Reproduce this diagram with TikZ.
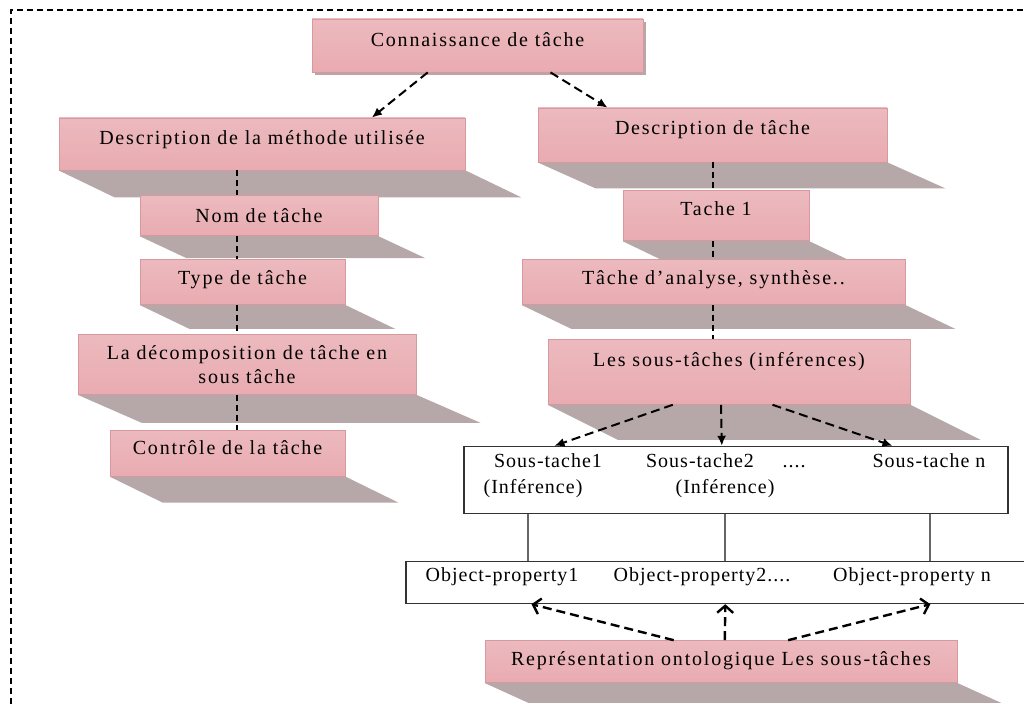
\documentclass[tikz,border=0pt]{standalone}
\usepackage{fontspec}
\setmainfont{Liberation Serif}
\newfontfamily\boxfont{Liberation Serif}[LetterSpace=9]
\newfontfamily\cellfont{Liberation Serif}[LetterSpace=5]
\usepackage{tikz}
\usetikzlibrary{positioning}
\usetikzlibrary{arrows.meta}
\usetikzlibrary{calc}
\usetikzlibrary{backgrounds}
\usepackage{xcolor}
\definecolor{pkdark}{RGB}{229,160,166}
\definecolor{pklight}{RGB}{250,234,236}
\definecolor{pkedge}{RGB}{215,152,158}
\definecolor{floor}{RGB}{182,168,168}

\begin{document}
\begin{tikzpicture}[
  x=0.5pt, y=-0.5pt,
  font=\boxfont,
  pbox/.style={draw=pkedge, line width=0.4pt, top color=pkdark!65!pklight, middle color=pklight, bottom color=pkdark!85!pklight, align=center, inner sep=2pt},
  wbox/.style={draw=black!80, fill=white, line width=0.6pt, inner sep=0pt},
  cell/.style={font=\cellfont, inner sep=0pt, text height=7pt, text depth=2pt},
  arrow/.style={-{Latex[length=5pt, width=4.5pt]}, line width=1pt, dash pattern=on 4.5pt off 2.5pt},
  openarrow/.style={-{Straight Barb[length=3.5pt, width=8pt]}, line width=1.2pt, dash pattern=on 4.5pt off 2.5pt},
  link/.style={line width=1pt, dash pattern=on 3pt off 2pt},
  rule/.style={line width=0.6pt, draw=black!60},
  frame/.style={line width=1pt, dash pattern=on 3pt off 2pt}
]
\useasboundingbox (0,0) rectangle (1024,704);

% Frame
\draw[frame] (11,704) -- (11,10) -- (1024,10);

% Top: task knowledge
\node[pbox, minimum width=165.5pt, minimum height=26.5pt, text depth=6.2pt] (conn) at (477.5,45.5) {Connaissance de tâche};

% Left: method description
\node[pbox, minimum width=203pt, minimum height=26pt, text depth=6.7pt] (meth) at (262,144) {Description de la méthode utilisée};
\node[pbox, minimum width=119pt, minimum height=20pt, below=12.5pt of meth, xshift=-1.5pt] (nom) {Nom de tâche};
\node[pbox, minimum width=102.5pt, minimum height=22.5pt, text depth=4.2pt, below=11.5pt of nom, xshift=-8.25pt] (type) {Type de tâche};
\node[pbox, minimum width=169pt, minimum height=30pt, below=14.5pt of type, xshift=2.25pt] (decomp) {La décomposition de tâche en\\sous tâche};
\node[pbox, minimum width=117.5pt, minimum height=23pt, text depth=5.7pt, below=17.5pt of decomp, xshift=-9.75pt] (ctrl) {Contrôle de la tâche};

% Right: task description
\node[pbox, minimum width=174.5pt, minimum height=27pt, text depth=7.7pt] (desc) at (712.5,135) {Description de tâche};
\node[pbox, minimum width=93pt, minimum height=25pt, text depth=7.7pt, below=14pt of desc, xshift=1.75pt] (t1) {Tache 1};
\node[pbox, minimum width=191.5pt, minimum height=22.5pt, text depth=4.2pt, below=9pt of t1, xshift=-1.25pt] (anal) {Tâche d’analyse, synthèse..};
\node[pbox, minimum width=181pt, minimum height=32.5pt, text depth=12.2pt, below=17pt of anal, xshift=7.75pt] (sous) {Les sous-tâches (inférences)};

% Sub-tasks and properties
\node[wbox, minimum width=272pt, minimum height=33.5pt, below=20.5pt of sous, xshift=3.5pt] (sub) {};
\node[wbox, minimum width=310pt, minimum height=21pt, below=23.5pt of sub, xshift=-10pt] (obj) {};
\node[pbox, minimum width=236pt, minimum height=21pt, text depth=3.2pt, below=18pt of obj, xshift=2.5pt] (rep) {Représentation ontologique Les sous-tâches};

\node[cell] (s1) at (548,463) {Sous-tache1};
\node[cell] (i1) at (533,489) {(Inférence)};
\node[cell] (s2) at (700,463) {Sous-tache2};
\node[cell] (i2) at (725,489) {(Inférence)};
\node[cell] (dots) at (794,463) {....};
\node[cell] (sn) at (929,463) {Sous-tache n};

\node[cell] (o1) at (502,577) {Object-property1};
\node[cell] (o2) at (702,577) {Object-property2....};
\node[cell] (on) at (912,577) {Object-property n};

% Shadows
\begin{scope}[on background layer]
  \foreach \n/\dx/\dy in {meth/56/27, nom/47/22, type/50/24, decomp/64/28, ctrl/53/26, desc/58/26, t1/50/24, anal/50/24, sous/70/35, rep/44/20}
    \fill[floor] (\n.south west) -- (\n.south east) -- ([shift={(\dx,\dy)}]\n.south east) -- ([shift={(\dx,\dy)}]\n.south west) -- cycle;
  \fill[floor] ([shift={(3,3)}]conn.north west) rectangle ([shift={(3,3)}]conn.south east);
\end{scope}

% Arrows from the top
\draw[arrow] ($(conn.south west)!0.35!(conn.south east)$) -- ($(meth.north west)!0.77!(meth.north east)$);
\draw[arrow] ($(conn.south west)!0.72!(conn.south east)$) -- ($(desc.north west)!0.2!(desc.north east)$);

% Column links
\coordinate (lx) at (237,0);
\coordinate (rx) at (713,0);
\foreach \a/\b in {meth/nom, nom/type, type/decomp, decomp/ctrl}
  \draw[link] (\a.south -| lx) -- (\b.north -| lx);
\foreach \a/\b in {desc/t1, t1/anal, anal/sous}
  \draw[link] (\a.south -| rx) -- (\b.north -| rx);

% Sub-tasks
\foreach \s/\e in {0.345/0.167, 0.478/0.474, 0.62/0.787}
  \draw[arrow] ($(sous.south west)!\s!(sous.south east)$) -- ($(sub.north west)!\e!(sub.north east)$);

\coordinate (c1) at (528,0);
\coordinate (c2) at (725,0);
\coordinate (c3) at (930,0);
\foreach \c in {c1, c2, c3}
  \draw[rule] (sub.south -| \c) -- (obj.north -| \c);

% Ontology
\foreach \s/\e in {0.40/0.203, 0.508/0.515, 0.642/0.845}
  \draw[openarrow] ($(rep.north west)!\s!(rep.north east)$) -- ($(obj.south west)!\e!(obj.south east)$);

\end{tikzpicture}
\end{document}
